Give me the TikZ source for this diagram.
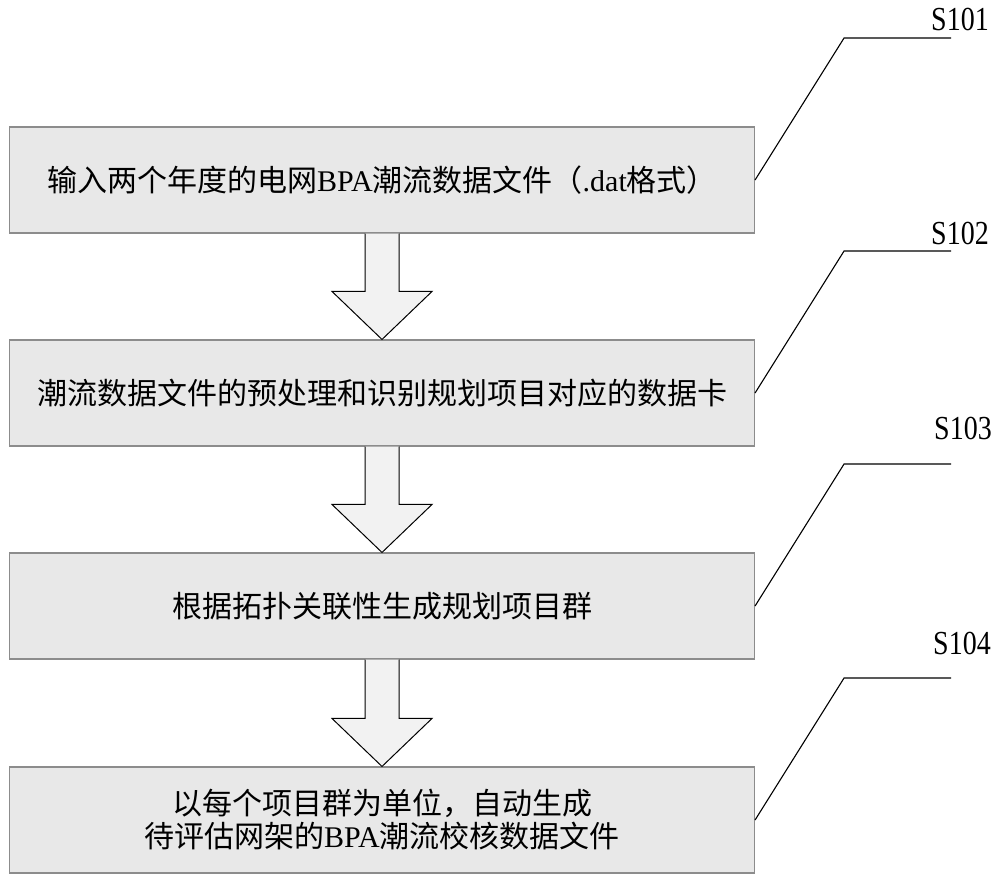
\documentclass[tikz,border=0pt]{standalone}
\usepackage{fontspec}
\setmainfont{Liberation Serif}
\newfontfamily\cjk{Noto Sans CJK SC}
\usetikzlibrary{calc,shapes}
\tikzstyle{stepbox}=[draw=black!45,fill=black!9,line width=1.1pt,minimum width=745pt,minimum height=106pt,inner sep=0pt,align=center,font=\fontsize{30}{33}\selectfont]
\tikzstyle{blockarrow}=[draw=black,fill=black!5,line width=1pt,line join=miter]
\tikzstyle{leader}=[draw,line width=1.1pt]
\tikzstyle{steplabel}=[font=\fontsize{28}{32}\selectfont,inner sep=0pt]

\begin{document}
\begin{tikzpicture}[x=1pt,y=-1pt]
    \useasboundingbox (0,0) rectangle (1000,880);
    % First we draw the step boxes
    \node[stepbox] (b1) at (382,180) {{\cjk 输入两个年度的电网}BPA{\cjk 潮流数据文件（}.dat{\cjk 格式）}};
    \node[stepbox] (b2) at (382,393) {{\cjk 潮流数据文件的预处理和识别规划项目对应的数据卡}};
    \node[stepbox] (b3) at (382,606) {{\cjk 根据拓扑关联性生成规划项目群}};
    \node[stepbox] (b4) at (382,820) {{\cjk 以每个项目群为单位，自动生成}\\{\cjk 待评估网架的}BPA{\cjk 潮流校核数据文件}};
    % Hollow arrows between the boxes
    \foreach \a/\b in {b1/b2, b2/b3, b3/b4}
        \path[blockarrow] ($(\a.south)+(-17,0)$) -- ($(\b.north)+(-17,-48)$) -- ($(\b.north)+(-50,-48)$) -- (\b.north) -- ($(\b.north)+(50,-48)$) -- ($(\b.north)+(17,-48)$) -- ($(\a.south)+(17,0)$);
    % Leader lines to the step numbers
    \foreach \name/\lab/\pos in {b1/S101/{(960,19)}, b2/S102/{(960,233)}, b3/S103/{(963,428)}, b4/S104/{(962,643)}} {
        \node[steplabel] (\lab) at \pos {\scalebox{1}[1.2]{\lab}};
        \coordinate (k\name) at ($(\name.east)+(89,-142)$);
        \coordinate (e\name) at ($(k\name)+(107,0)$);
        \path[leader] (\name.east) -- (k\name) -- (e\name);
    }
\end{tikzpicture}
\end{document}
